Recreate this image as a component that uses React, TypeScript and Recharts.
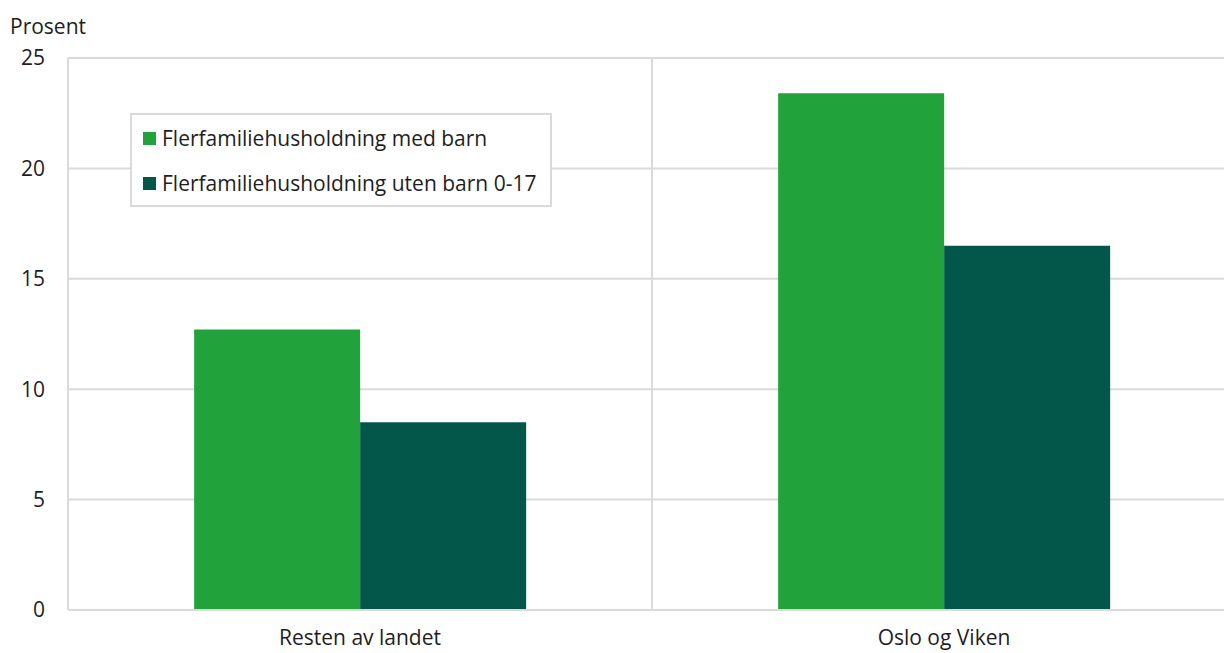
import { BarChart, Bar, XAxis, YAxis, CartesianGrid } from 'recharts'

const categories = ['Resten av landet', 'Oslo og Viken']
const medBarn = [12.7, 23.4]
const utenBarn = [8.5, 16.5]
const yTicks = [0, 5, 10, 15, 20, 25]

const seriesNames = ['Flerfamiliehusholdning med barn', 'Flerfamiliehusholdning uten barn 0-17']
const colors = ['#21a23a', '#02574a']

const data = categories.map((c, i) => ({ name: c, med: medBarn[i], uten: utenBarn[i] }))

const font = '"Open Sans", sans-serif'
const gridColor = '#dadada'
const textColor = '#1e1e1e'

function LegendBox() {
  return (
    <div
      style={{
        position: 'absolute',
        left: 130,
        top: 113,
        width: 418,
        height: 90,
        border: `2px solid ${gridColor}`,
        background: '#fff',
        fontFamily: font,
        fontSize: 21,
        color: textColor,
      }}
    >
      {seriesNames.map((n, i) => (
        <div
          key={n}
          style={{ position: 'absolute', left: 11, top: 10 + i * 45, height: 26, display: 'flex', alignItems: 'center', whiteSpace: 'nowrap' }}
        >
          <span style={{ width: 13, height: 13, background: colors[i], marginRight: 6, display: 'inline-block' }} />
          <span>{n}</span>
        </div>
      ))}
    </div>
  )
}

// category boundary lines: left edge and the middle between the two groups
const boundaryLines = ({ offset }: any) =>
  categories.map((_, i) => offset.left + (offset.width * i) / categories.length)

export default function App() {
  return (
    <div style={{ position: 'absolute', left: 0, top: 0, width: 1224, height: 653, overflow: 'hidden', background: '#fff' }}>
      <BarChart
        width={1240}
        height={653}
        data={data}
        margin={{ top: 58, right: 4, left: 0, bottom: 0 }}
        barCategoryGap="21.6%"
        barGap={0}
      >
        <CartesianGrid stroke={gridColor} strokeWidth={2} verticalCoordinatesGenerator={boundaryLines} />
        <XAxis
          dataKey="name"
          height={43}
          tickLine={false}
          tickSize={0}
          tickMargin={20}
          axisLine={{ stroke: gridColor, strokeWidth: 2 }}
          tick={{ fontFamily: font, fontSize: 21, fill: textColor }}
        />
        <YAxis
          width={68}
          domain={[0, 25]}
          ticks={yTicks}
          tickLine={false}
          tickSize={0}
          tickMargin={23}
          axisLine={{ stroke: gridColor, strokeWidth: 2 }}
          tick={{ fontFamily: font, fontSize: 21, fill: textColor }}
        />
        <Bar dataKey="med" name={seriesNames[0]} fill={colors[0]} isAnimationActive={false} />
        <Bar dataKey="uten" name={seriesNames[1]} fill={colors[1]} isAnimationActive={false} />
      </BarChart>
      <div style={{ position: 'absolute', left: 10, top: 12, fontFamily: font, fontSize: 21, color: textColor }}>Prosent</div>
      <LegendBox />
    </div>
  )
}
